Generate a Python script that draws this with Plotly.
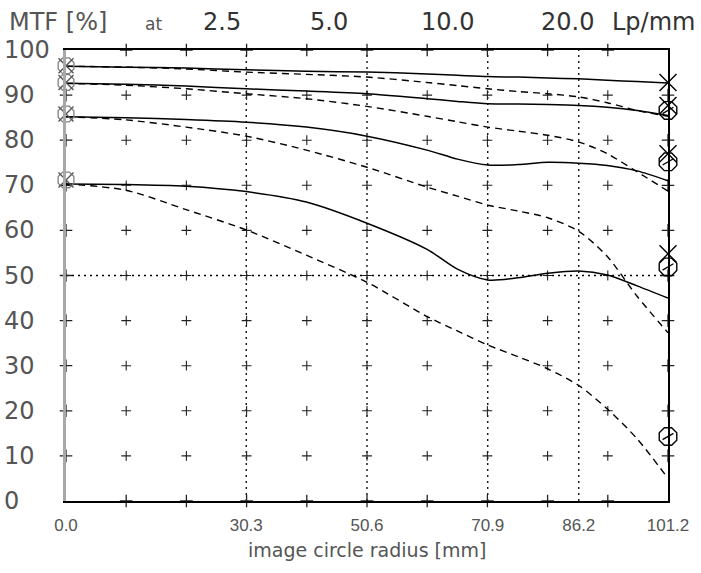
import plotly.graph_objects as go

# ---------------- data ----------------
radius = [0, 10.1, 20.2, 30.3, 40.4, 50.6, 60.7, 65.8, 70.9, 76, 81, 86.2, 91, 96, 101.2]

sag_2_5 = [96.4, 96.2, 96.0, 95.6, 95.3, 95.1, 94.7, 94.4, 94.1, 94.0, 93.8, 93.6, 93.3, 93.0, 92.7]
tan_2_5 = [96.4, 96.2, 95.8, 95.1, 94.6, 94.0, 92.8, 92.1, 91.4, 90.8, 90.3, 89.6, 88.3, 86.6, 85.3]
sag_5 = [92.6, 92.4, 92.0, 91.4, 90.9, 90.3, 89.2, 88.6, 88.1, 88.0, 87.9, 87.7, 87.3, 86.6, 85.5]
tan_5 = [92.6, 92.2, 91.4, 90.3, 89.2, 87.5, 85.3, 84.1, 82.9, 82.0, 81.1, 79.6, 77.0, 73.0, 68.7]
sag_10 = [85.2, 85.0, 84.6, 84.0, 82.9, 80.9, 77.8, 75.8, 74.5, 74.6, 75.1, 74.9, 74.4, 73.2, 71.0]
tan_10 = [85.2, 84.5, 82.9, 80.9, 77.8, 74.0, 69.6, 67.6, 65.6, 64.3, 62.8, 59.8, 54.2, 45.4, 37.3]
sag_20 = [70.3, 70.2, 69.8, 68.6, 66.3, 61.6, 55.8, 51.4, 49.0, 49.5, 50.5, 51.0, 50.1, 47.7, 45.0]
tan_20 = [70.3, 68.9, 64.6, 60.1, 54.5, 48.5, 40.9, 37.7, 34.6, 32.0, 29.3, 25.6, 20.4, 13.8, 5.0]

start_marks = [96.5, 92.8, 85.8, 71.2]
end_x_marks = [92.8, 87.7, 77.0, 54.8]
end_o_marks = [86.6, 75.2, 51.9, 14.3]

xtick_vals = [0.0, 30.3, 50.6, 70.9, 86.2, 101.2]
xtick_text = ["0.0", "30.3", "50.6", "70.9", "86.2", "101.2"]
ytick_vals = [0, 10, 20, 30, 40, 50, 60, 70, 80, 90, 100]
minor_x = [10.12, 20.24, 30.36, 40.48, 50.6, 60.72, 70.84, 80.96, 91.08]
minor_y = [10, 20, 30, 40, 50, 60, 70, 80, 90]
dotted_x = [30.3, 50.6, 70.9, 86.2]
dotted_y = [50]
freq_labels = ["2.5", "5.0", "10.0", "20.0"]

X_MAX = 101.2
Y_MAX = 100
THIN = "DejaVu Sans ExtraLight, DejaVu Sans, sans-serif"
GREY = "#555555"

fig = go.Figure()

# dotted reference lines
for v in dotted_x:
    fig.add_trace(go.Scatter(x=[v, v], y=[0, Y_MAX], mode="lines",
                             line=dict(color="black", width=1.3, dash="2px,4px"),
                             hoverinfo="skip", showlegend=False))
for v in dotted_y:
    fig.add_trace(go.Scatter(x=[0, X_MAX], y=[v, v], mode="lines",
                             line=dict(color="black", width=1.3, dash="2px,4px"),
                             hoverinfo="skip", showlegend=False))

# "+" grid marks
gx = [x for x in minor_x for _ in minor_y]
gy = [y for _ in minor_x for y in minor_y]
fig.add_trace(go.Scatter(x=gx, y=gy, mode="markers",
                         marker=dict(symbol="cross-thin-open", size=7, color="#222",
                                     line=dict(width=1.1, color="#222")),
                         hoverinfo="skip", showlegend=False))

# crossing ticks on the frame, drawn as "+" symbols sitting on the frame lines
fx = minor_x + minor_x + [0] * len(minor_y) + [X_MAX] * len(minor_y)
fy = [0] * len(minor_x) + [Y_MAX] * len(minor_x) + minor_y + minor_y
fig.add_trace(go.Scatter(x=fx, y=fy, mode="markers", cliponaxis=False,
                         marker=dict(symbol="cross-thin-open", size=9, color="#222",
                                     line=dict(width=1.3, color="#222")),
                         hoverinfo="skip", showlegend=False))

# MTF curves
for s in [sag_2_5, sag_5, sag_10, sag_20]:
    fig.add_trace(go.Scatter(x=radius, y=s, mode="lines",
                             line=dict(color="black", width=1.5, shape="spline", smoothing=0.8),
                             hoverinfo="skip", showlegend=False))
for t in [tan_2_5, tan_5, tan_10, tan_20]:
    fig.add_trace(go.Scatter(x=radius, y=t, mode="lines",
                             line=dict(color="black", width=1.4, dash="7px,5px",
                                       shape="spline", smoothing=0.8),
                             hoverinfo="skip", showlegend=False))

# symbols at the ends
fig.add_trace(go.Scatter(x=[0] * len(start_marks), y=start_marks, mode="markers", cliponaxis=False,
                         marker=dict(symbol="octagon-open", size=17, color="#808080", line=dict(width=1.3)),
                         hoverinfo="skip", showlegend=False))
fig.add_trace(go.Scatter(x=[0] * len(start_marks), y=start_marks, mode="markers", cliponaxis=False,
                         marker=dict(symbol="x-thin-open", size=15, color="#555", line=dict(width=1.4)),
                         hoverinfo="skip", showlegend=False))
fig.add_trace(go.Scatter(x=[X_MAX] * len(end_o_marks), y=end_o_marks, mode="markers", cliponaxis=False,
                         marker=dict(symbol="octagon-open", size=19, color="black", line=dict(width=1.4)),
                         hoverinfo="skip", showlegend=False))
fig.add_trace(go.Scatter(x=[X_MAX] * len(end_o_marks), y=end_o_marks, mode="markers", cliponaxis=False,
                         marker=dict(symbol="line-ew-open", size=9, color="black", line=dict(width=1.3),
                                     angle=-30, standoff=0),
                         hoverinfo="skip", showlegend=False))
fig.add_trace(go.Scatter(x=[X_MAX] * len(end_x_marks), y=end_x_marks, mode="markers", cliponaxis=False,
                         marker=dict(symbol="x-thin-open", size=17, color="black", line=dict(width=1.4)),
                         hoverinfo="skip", showlegend=False))

# secondary y axis for the black right frame line
fig.add_trace(go.Scatter(x=[0], y=[0], yaxis="y2", mode="markers",
                         marker=dict(opacity=0), hoverinfo="skip", showlegend=False))

annotations = []
for v in ytick_vals:
    annotations.append(dict(x=0, xref="paper", xanchor="left", xshift=-64,
                            y=v, yref="y", yanchor="middle", showarrow=False,
                            text=str(v), font=dict(family=THIN, size=24, color=GREY)))

# header
annotations.append(dict(x=0, xref="paper", xanchor="left", xshift=-59, y=1, yref="paper",
                        yshift=28, yanchor="middle", showarrow=False, text="MTF [%]",
                        font=dict(family=THIN, size=24, color=GREY)))
annotations.append(dict(x=0, xref="paper", xanchor="left", xshift=77, y=1, yref="paper",
                        yshift=26, yanchor="middle", showarrow=False, text="at",
                        font=dict(family=THIN, size=17, color=GREY)))
freq_px = [222, 329, 447, 567]
for lab, px in zip(freq_labels, freq_px):
    annotations.append(dict(x=0, xref="paper", xanchor="center", xshift=px - 66, y=1, yref="paper",
                            yshift=28, yanchor="middle", showarrow=False, text=lab,
                            font=dict(family=THIN, size=24, color="#333")))
annotations.append(dict(x=0, xref="paper", xanchor="left", xshift=610 - 66, y=1, yref="paper",
                        yshift=28, yanchor="middle", showarrow=False, text="Lp/mm",
                        font=dict(family=THIN, size=24, color="#333")))
annotations.append(dict(x=0.5, xref="paper", xanchor="center", y=0, yref="paper",
                        yshift=-49, yanchor="middle", showarrow=False,
                        text="image circle radius [mm]",
                        font=dict(family=THIN, size=19, color=GREY)))

fig.update_layout(
    width=701, height=573,
    margin=dict(l=66, r=28, t=50, b=72),
    paper_bgcolor="white", plot_bgcolor="white",
    showlegend=False,
    xaxis=dict(range=[0, X_MAX], tickvals=xtick_vals, ticktext=xtick_text,
               showgrid=False, zeroline=False, showline=True, mirror=True,
               linecolor="black", linewidth=1.5, ticks="", ticklabelstandoff=8,
               tickfont=dict(family="Liberation Sans Narrow, Liberation Sans, sans-serif",
                             size=17, color=GREY)),
    yaxis=dict(range=[0, Y_MAX], showgrid=False, zeroline=False, showline=True,
               linecolor="#a8a8a8", linewidth=3, showticklabels=False, ticks=""),
    yaxis2=dict(range=[0, Y_MAX], overlaying="y", side="right", showgrid=False,
                zeroline=False, showline=True, linecolor="black", linewidth=1.5,
                showticklabels=False, ticks=""),
    annotations=annotations,
)

fig.write_html("out.html")
